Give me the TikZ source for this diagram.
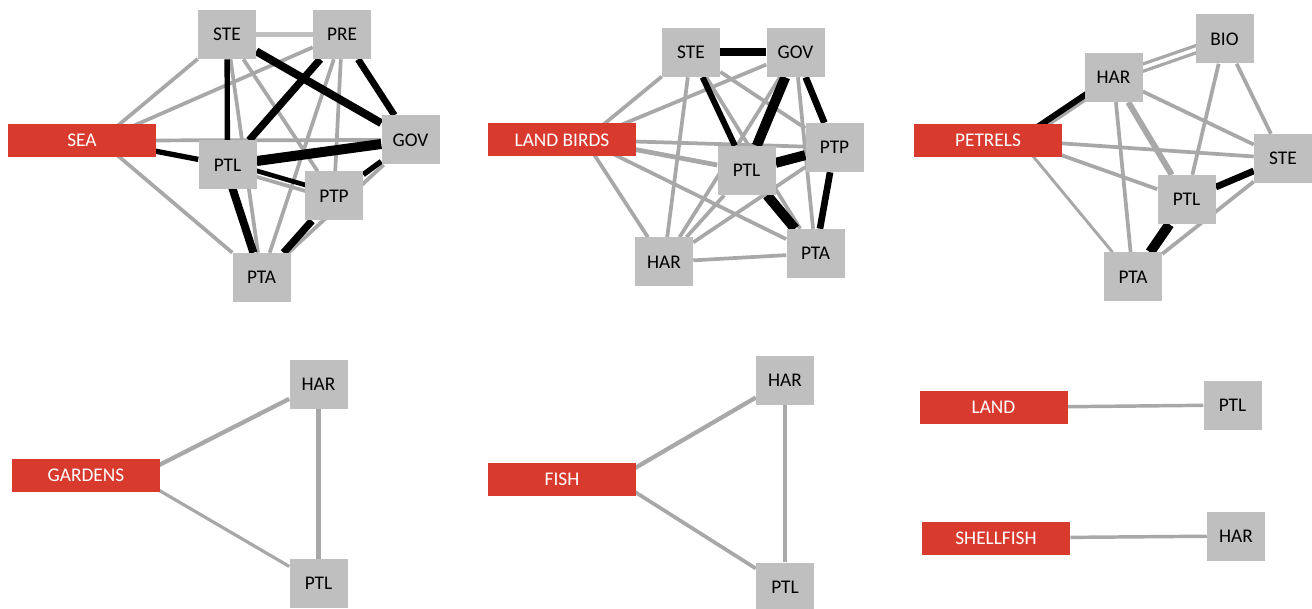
\documentclass[tikz,border=0pt]{standalone}
\usepackage{fontspec}
\setmainfont{Carlito}
\usepackage{xcolor}
\usetikzlibrary{backgrounds}

\definecolor{boxgray}{RGB}{191,191,191}
\definecolor{hubred}{RGB}{217,58,46}
\definecolor{linkgray}{RGB}{168,168,168}

\tikzset{
    tag/.style={rectangle, fill=boxgray, minimum width=43.5pt, minimum height=36.75pt,
        inner sep=0pt, font=\fontsize{14.5}{16}\selectfont},
    hub/.style={rectangle, fill=hubred, text=white, minimum width=111pt, minimum height=24.75pt,
        inner sep=0pt, font=\fontsize{14.5}{16}\selectfont},
    link/.style={draw=linkgray, line width=#1},
    link/.default=2.8pt,
    tie/.style={draw=black, line width=#1},
    tie/.default=4.5pt
}

\begin{document}
\begin{tikzpicture}[x=0.75pt, y=-0.75pt]
    \useasboundingbox (0,0) rectangle (1312,609);

    % SEA
    \node[hub] (a-sea) at (82,140.5) {SEA};
    \node[tag] (a-ste) at (227,34.5) {STE};
    \node[tag] (a-pre) at (342,34.5) {PRE};
    \node[tag] (a-gov) at (410.5,140) {GOV};
    \node[tag] (a-ptl) at (227.5,165) {PTL};
    \node[tag] (a-ptp) at (334,196) {PTP};
    \node[tag] (a-pta) at (261.5,277.5) {PTA};
    \coordinate (a-c) at ([xshift=13.5pt]a-sea.center);

    % LAND BIRDS
    \node[hub] (b-lb) at (562,140) {LAND BIRDS};
    \node[tag] (b-ste) at (691,52.5) {STE};
    \node[tag] (b-gov) at (795.5,52.5) {GOV};
    \node[tag] (b-ptp) at (834.5,147.5) {PTP};
    \node[tag] (b-ptl) at (746.5,170.5) {PTL};
    \node[tag] (b-pta) at (815.5,253.5) {PTA};
    \node[tag] (b-har) at (664,262) {HAR};
    \coordinate (b-c) at ([xshift=17pt]b-lb.center);

    % PETRELS
    \node[hub] (c-pet) at (988,140.5) {PETRELS};
    \node[tag] (c-har) at (1113.5,77.5) {HAR};
    \node[tag] (c-bio) at (1224.5,39) {BIO};
    \node[tag] (c-ste) at (1283,158.5) {STE};
    \node[tag] (c-ptl) at (1186.5,199.5) {PTL};
    \node[tag] (c-pta) at (1133,277) {PTA};
    \coordinate (c-c) at ([xshift=24pt]c-pet.center);

    % GARDENS
    \node[hub] (d-gar) at (86,475.5) {GARDENS};
    \node[tag] (d-har) at (318.5,384) {HAR};
    \node[tag] (d-ptl) at (318.5,583.5) {PTL};
    \coordinate (d-c) at ([xshift=37.5pt, yshift=-1pt]d-gar.center);

    % FISH
    \node[hub] (e-fish) at (562,479.5) {FISH};
    \node[tag] (e-har) at (785,380.5) {HAR};
    \node[tag] (e-ptl) at (785,587) {PTL};
    \coordinate (e-c) at ([xshift=40pt]e-fish.center);

    % LAND, SHELLFISH
    \node[hub] (f-land) at (993.5,407.5) {LAND};
    \node[tag] (f-ptl) at (1232.5,405) {PTL};
    \node[hub] (g-shell) at (996,538) {SHELLFISH};
    \node[tag] (g-har) at (1236,536) {HAR};

    \begin{scope}[on background layer]
        % SEA links
        \draw[link=3.6pt, draw=boxgray] (a-ste) -- (a-pre);
        \foreach \u/\v in {a-c/a-ste, a-c/a-pre, a-c/a-gov, a-c/a-pta, a-ste/a-pta,
                a-ste/a-ptp, a-pre/a-ptp, a-pre/a-pta, a-pta/a-gov}
            \draw[link] (\u) -- (\v);
        \draw[link] ([yshift=-2.5pt]a-ptl.center) -- ([yshift=-2.5pt]a-ptp.center);
        \draw[tie=4pt] (a-c) -- (a-ptl);
        \draw[tie=4pt] (a-ste) -- (a-ptl);
        \draw[tie=6pt] (a-ste) -- (a-gov);
        \draw[tie=5.5pt] (a-pre) -- (a-ptl);
        \draw[tie=5pt] (a-pre) -- (a-gov);
        \draw[tie=7.5pt] (a-ptl) -- (a-gov);
        \draw[tie=6pt] ([xshift=-2pt]a-ptl.center) -- (a-pta);
        \draw[tie=5.5pt] (a-pta) -- (a-ptp);
        \draw[tie=4pt] (a-ptp) -- (a-gov);
        \draw[tie=3.5pt] ([yshift=2pt]a-ptl.center) -- ([yshift=2pt]a-ptp.center);

        % LAND BIRDS links
        \draw[link=3.6pt] (b-c) -- (b-ptl);
        \foreach \u/\v in {b-c/b-ste, b-c/b-gov, b-c/b-ptp, b-c/b-pta, b-c/b-har,
                b-ste/b-pta, b-ste/b-har, b-ste/b-ptp, b-gov/b-har, b-gov/b-pta,
                b-har/b-ptl, b-har/b-ptp, b-har/b-pta}
            \draw[link] (\u) -- (\v);
        \draw[tie=6pt] (b-ste) -- (b-gov);
        \draw[tie=4.5pt] (b-ste) -- (b-ptl);
        \draw[tie=7.5pt] (b-gov) -- (b-ptl);
        \draw[tie=5pt] (b-gov) -- (b-ptp);
        \draw[tie=7.5pt] (b-ptl) -- (b-ptp);
        \draw[tie=7.5pt] (b-ptl) -- (b-pta);
        \draw[tie=5pt] (b-ptp) -- (b-pta);

        % PETRELS links
        \foreach \u/\v in {c-c/c-ste, c-c/c-ptl, c-har/c-ste, c-har/c-pta,
                c-bio/c-ptl, c-bio/c-ste, c-ste/c-pta}
            \draw[link] (\u) -- (\v);
        \draw[link=2.2pt] (c-c) -- (c-pta);
        \draw[link=2.4pt] ([yshift=2.5pt]c-har.center) -- ([yshift=2.5pt]c-bio.center);
        \draw[link=2.4pt] ([yshift=-3pt]c-har.center) -- ([yshift=-3pt]c-bio.center);
        \draw[link=4.5pt] (c-har) -- (c-ptl);
        \draw[link] ([xshift=3.5pt]c-c) -- ([xshift=3.5pt]c-har.center);
        \draw[tie=4.5pt] ([xshift=-2pt]c-c) -- ([xshift=-2pt]c-har.center);
        \draw[tie=5pt] (c-ptl) -- (c-ste);
        \draw[tie=7.5pt] (c-ptl) -- (c-pta);

        % GARDENS, FISH, LAND, SHELLFISH links
        \draw[link=3.2pt] (d-c) -- (d-har);
        \draw[link=2.4pt] (d-c) -- (d-ptl);
        \draw[link=3.6pt] (d-har) -- (d-ptl);
        \draw[link=3.2pt] (e-c) -- (e-har);
        \draw[link] (e-c) -- (e-ptl);
        \draw[link=3.2pt] (e-har) -- (e-ptl);
        \draw[link=2.6pt] (f-land) -- (f-ptl);
        \draw[link=2.6pt] (g-shell) -- (g-har);
    \end{scope}
\end{tikzpicture}
\end{document}
